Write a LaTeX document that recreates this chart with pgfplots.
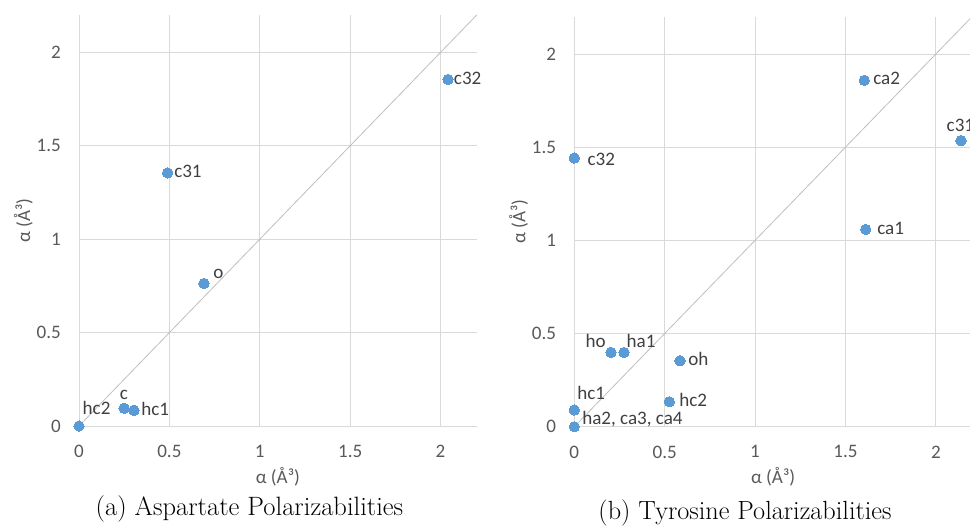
\documentclass[border=0pt]{standalone}
\usepackage{fontspec}
\usepackage{pgfplots}
\pgfplotsset{compat=1.18}
\usepackage{pgfplotstable}
\newfontfamily\carlito{Carlito}
\definecolor{ptblue}{HTML}{5B9BD5}
\definecolor{gridgray}{HTML}{D9D9D9}
\definecolor{tickgray}{HTML}{595959}
\definecolor{diaggray}{HTML}{BFBFBF}
\definecolor{lblgray}{HTML}{404040}

% x y label dx(pt) dy(pt)  -- label placed with base west anchor
\pgfplotstableread{
x y label dx dy
0 0 hc2 2.8 8.8
0.25 0.095 c -3.2 6.5
0.304 0.084 hc1 5.5 -3.75
0.691 0.763 o 7 3.75
0.49 1.355 c31 5 -3.5
2.041 1.855 c32 4.5 -3.5
}\asptable

\pgfplotstableread{
x y label dx dy
0 1.442 c32 10 -5.8
1.604 1.859 ca2 6.75 -2.8
2.139 1.535 c31 -10.7 6.75
1.612 1.059 ca1 8.7 -3.75
0.203 0.399 ho -19 3.75
0.275 0.399 ha1 2 3.75
0.585 0.354 oh 6.25 -3.75
0.526 0.134 hc2 7.5 -3.75
0 0.09 hc1 2.25 8
0 0 {ha2, ca3, ca4} 6 1.8
}\tyrtable

\pgfplotsset{
  polstyle/.style={
    scale only axis,
    width=298.3pt,
    xmin=0, xmax=2.2, ymin=0, ymax=2.2,
    xtick={0,0.5,1,1.5,2}, ytick={0,0.5,1,1.5,2},
    axis lines=left,
    axis line style={draw=gridgray, line width=0.75pt, -},
    grid=major,
    major grid style={draw=gridgray, line width=0.75pt},
    major tick length=0pt,
    /pgf/number format/assume math mode=true,
    ticklabel style={font=\carlito\fontsize{14.3}{16}\selectfont, text=tickgray, inner sep=0pt},
    xticklabel style={anchor=north, yshift=-14pt},
    yticklabel style={anchor=east, xshift=-13.5pt},
    label style={font=\carlito\fontsize{14.3}{16}\selectfont, text=tickgray, inner sep=0pt},
    xlabel={α (Å³)}, ylabel={α (Å³)},
    xlabel style={at={([yshift=-42.75pt]axis description cs:0.5,0)}, anchor=base},
    ylabel style={at={([xshift=-36.75pt]axis description cs:0,0.5)}, anchor=base},
    clip=false,
  },
  ptstyle/.style={
    only marks, mark=*, mark size=3.9pt,
    mark options={fill=ptblue, draw=ptblue, line width=0pt},
    point meta=explicit symbolic,
    visualization depends on={\thisrow{dx}\as\dx},
    visualization depends on={\thisrow{dy}\as\dy},
    nodes near coords,
    every node near coord/.append style={anchor=base west, inner sep=0pt,
      xshift=\dx pt, yshift=\dy pt, font=\carlito\fontsize{14.3}{16}\selectfont, text=lblgray},
  },
}

\begin{document}
\begin{tikzpicture}
\begin{axis}[polstyle, height=308.25pt, at={(59.25pt,77.25pt)}, anchor=south west]
  \addplot[diaggray, line width=0.6pt] coordinates {(0,0) (2.2,2.2)};
  \addplot[ptstyle] table[x=x, y=y, meta=label] {\asptable};
\end{axis}
\begin{axis}[polstyle, height=307.5pt, at={(430.7pt,76.7pt)}, anchor=south west]
  \addplot[diaggray, line width=0.6pt] coordinates {(0,0) (2.2,2.2)};
  \addplot[ptstyle] table[x=x, y=y, meta=label] {\tyrtable};
\end{axis}
\node[anchor=base, font=\fontsize{19.9}{22}\selectfont, inner sep=0pt] at (187.1pt,10.5pt) {(a) Aspartate Polarizabilities};
\node[anchor=base, font=\fontsize{19.7}{22}\selectfont, inner sep=0pt] at (558.75pt,7.5pt) {(b) Tyrosine Polarizabilities};
\pgfresetboundingbox
\useasboundingbox (0,0) rectangle (727.5pt,396.75pt);
\end{tikzpicture}
\end{document}
